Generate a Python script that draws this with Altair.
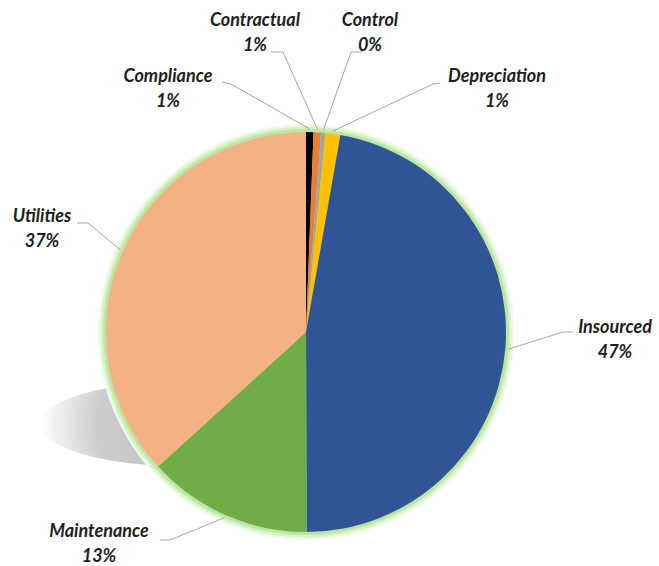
import altair as alt
import pandas as pd

# ---- data ----
categories = ["Compliance", "Contractual", "Control", "Depreciation",
              "Insourced", "Maintenance", "Utilities"]
values = [0.6, 0.6, 0.35, 1.2, 47.2, 13.3, 36.75]
colors = ["#000000", "#ED7D31", "#A5A5A5", "#FFC000",
          "#2F5597", "#70AD47", "#F4B183"]

# ---- label layout (pixels) ----
label_x = [168, 255, 370, 497, 42, 615, 99]
name_y = [77, 21, 21, 77, 217, 328, 532]
pct_y = [102, 46, 46, 102, 242, 353, 557]
line_start_x = [222, 271, 362, 440, 77, 573, 160]
line_start_y = [82, 52, 52, 83, 223, 332, 540]
elbow_x = [231, 283, 351, 433, 88, 563, 170]
elbow_y = [84, 52, 52, 84, 223, 332, 540]

# reorder label layout so it lines up with categories
lab_order = ["Compliance", "Contractual", "Control", "Depreciation",
             "Utilities", "Insourced", "Maintenance"]
idx = {c: i for i, c in enumerate(lab_order)}

CX, CY, R = 306, 332, 200
W, H = 659, 566

df = pd.DataFrame({
    "category": categories,
    "value": values,
    "order": list(range(len(categories))),
})
total = sum(values)
df["pct"] = [f"{round(v / total * 100):.0f}%" for v in values]
df["lx"] = [label_x[idx[c]] for c in categories]
df["ny"] = [name_y[idx[c]] for c in categories]
df["py_"] = [pct_y[idx[c]] for c in categories]
df["sx"] = [line_start_x[idx[c]] for c in categories]
df["sy"] = [line_start_y[idx[c]] for c in categories]
df["ex"] = [elbow_x[idx[c]] for c in categories]
df["ey"] = [elbow_y[idx[c]] for c in categories]

xs = alt.Scale(domain=[0, W], range=[0, W])
ys = alt.Scale(domain=[0, H], range=[0, H])

one = pd.DataFrame({"k": [1]})

shadow = alt.Chart(one).mark_point(
    shape="M -1 0 A 1 0.3 0 1 0 1 0 A 1 0.3 0 1 0 -1 0 Z",
    filled=True, opacity=1, strokeWidth=0,
    fill=alt.RadialGradient(
        gradient="radial",
        stops=[alt.GradientStop(offset=0, color="#bdbdbd"),
               alt.GradientStop(offset=0.6, color="#cdcdcd"),
               alt.GradientStop(offset=1, color="#ffffff")],
        x1=0.5, y1=0.5, r1=0, x2=0.5, y2=0.5, r2=0.5),
    size=280 * 280,
).encode(x=alt.value(180), y=alt.value(424))

glow_layers = []
for rad, col in [(208, "#F0F9EA"), (205.5, "#D8F1C8"), (203, "#BBE7A3")]:
    glow_layers.append(
        alt.Chart(one).mark_arc(radius=rad, color=col).encode(
            theta=alt.value(0), theta2=alt.value(6.2832),
            x=alt.value(CX), y=alt.value(CY))
    )

pie = alt.Chart(df).mark_arc(radius=R, stroke=None).encode(
    theta=alt.Theta("value:Q", stack=True),
    order=alt.Order("order:Q"),
    color=alt.Color("category:N", scale=alt.Scale(domain=categories, range=colors), legend=None),
    x=alt.value(CX), y=alt.value(CY),
)

edge = alt.Chart(df).transform_joinaggregate(
    total="sum(value)"
).transform_window(
    cum="sum(value)", sort=[alt.SortField("order")], frame=[None, 0]
).transform_calculate(
    mid="(datum.cum - datum.value/2)/datum.total*2*PI",
    px=f"{CX}+{R + 3}*sin(datum.mid)",
    pyy=f"{CY}-{R + 3}*cos(datum.mid)",
)

lead1 = alt.Chart(df).mark_rule(color="#A6A6A6", strokeWidth=1).encode(
    x=alt.X("sx:Q", scale=xs, axis=None),
    y=alt.Y("sy:Q", scale=ys, axis=None),
    x2="ex:Q", y2="ey:Q",
)
lead2 = edge.mark_rule(color="#A6A6A6", strokeWidth=1).encode(
    x=alt.X("ex:Q", scale=xs, axis=None),
    y=alt.Y("ey:Q", scale=ys, axis=None),
    x2="px:Q", y2="pyy:Q",
)

font = "Lato"
names = alt.Chart(df).mark_text(
    font=font, fontSize=18, fontWeight="bold", fontStyle="italic",
    color="#1e1e1e", baseline="middle", align="center",
).encode(
    x=alt.X("lx:Q", scale=xs, axis=None),
    y=alt.Y("ny:Q", scale=ys, axis=None),
    text="category:N",
)
pcts = alt.Chart(df).mark_text(
    font=font, fontSize=18, fontWeight="bold", fontStyle="italic",
    color="#1e1e1e", baseline="middle", align="center",
).encode(
    x=alt.X("lx:Q", scale=xs, axis=None),
    y=alt.Y("py_:Q", scale=ys, axis=None),
    text="pct:N",
)

chart = alt.layer(
    shadow, *glow_layers, pie, lead1, lead2, names, pcts
).properties(
    width=W, height=H, padding=0, autosize=alt.AutoSizeParams(type="none"),
    background="white",
).configure_view(stroke=None)

chart.save("out.html", embed_options={"renderer": "svg", "actions": False})
